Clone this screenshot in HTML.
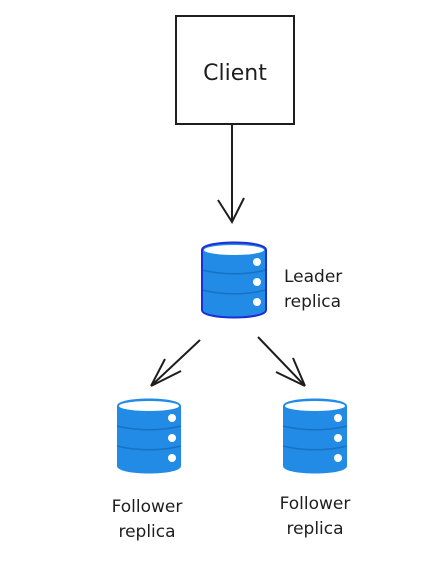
<!DOCTYPE html>
<html><head><style>body{margin:0;background:#fff}text{font-family:"Comic Sans MS","DejaVu Sans",sans-serif;fill:#1e1e1e}</style></head>
<body>
<svg width="434" height="576" viewBox="0 0 434 576">
<defs>
<g id="db">
<path d="M0,8 C0,-2 64,-2 64,8 L64,68 C64,78 0,78 0,68 Z" fill="#228be6"/>
<ellipse cx="32" cy="8" rx="30" ry="5" fill="#fff"/>
<path d="M0,28 C20,33 44,33 64,28 M0,48 C20,53 44,53 64,48" stroke="#1971c2" stroke-width="1.5" fill="none"/>
<circle cx="55" cy="20" r="4" fill="#fff"/><circle cx="55" cy="40" r="4" fill="#fff"/><circle cx="55" cy="60" r="4" fill="#fff"/>
</g>
</defs>
<rect x="176" y="16" width="118" height="108" fill="none" stroke="#1e1e1e" stroke-width="2"/>
<text x="235" y="80" font-size="22" text-anchor="middle">Client</text>
<path d="M232,125 L232,222 M218,200 L232,222 L244,198" stroke="#1e1e1e" stroke-width="2" fill="none"/>
<g transform="translate(202,242)"><use href="#db"/><path d="M0,8 C0,-2 64,-2 64,8 L64,68 C64,78 0,78 0,68 Z" fill="none" stroke="#1c2fd6" stroke-width="2"/></g>
<text x="284" y="282" font-size="17">Leader</text>
<text x="284" y="307" font-size="17">replica</text>
<path d="M200,340 L151,386 M151,386 L181,371 M151,386 L165,359" stroke="#1e1e1e" stroke-width="2" fill="none"/>
<path d="M258,337 L305,386 M305,386 L276,372 M305,386 L293,358" stroke="#1e1e1e" stroke-width="2" fill="none"/>
<g transform="translate(117,398)"><use href="#db"/></g>
<g transform="translate(283,398)"><use href="#db"/></g>
<text x="147" y="512" font-size="17" text-anchor="middle">Follower</text>
<text x="147" y="537" font-size="17" text-anchor="middle">replica</text>
<text x="315" y="509" font-size="17" text-anchor="middle">Follower</text>
<text x="315" y="534" font-size="17" text-anchor="middle">replica</text>
</svg>
</body></html>
